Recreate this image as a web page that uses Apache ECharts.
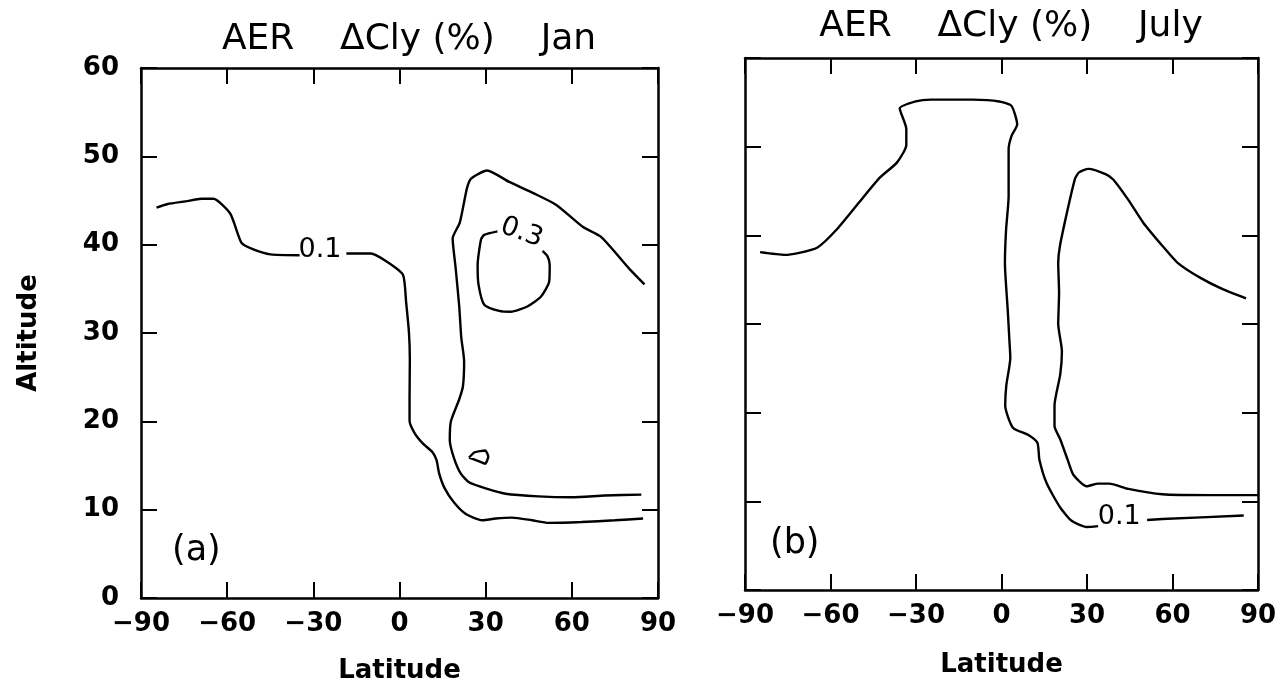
<!DOCTYPE html>
<html>
<head>
<meta charset="utf-8">
<script src="https://cdn.jsdelivr.net/npm/echarts@6/dist/echarts.min.js"></script>
<style>
  html, body { margin: 0; padding: 0; background: #fff; }
  #chart { width: 1279px; height: 683px; }
</style>
</head>
<body>
<div id="chart"></div>
<script>
// Latitude / altitude axis ticks
const LAT_TICKS = { min: -90, max: 90, step: 30 };
const ALT_TICKS = { min: 0, max: 60, step: 10 };

// ---- January (a): contour paths as [latitude, altitude] ----
const JAN_LOW_WEST = [[-84.6,44.2],[-80.7,44.6],[-74.5,44.9],[-69,45.2],[-64.8,45.2],[-58.9,43.5],[-55,40.2],[-51.1,39.5],[-44.9,38.9],[-34.8,38.8]];
const JAN_LOW_EAST = [[-18.5,39],[-10,39],[-4.5,38.1],[1.2,36.6],[2.3,33.5],[3.3,30],[3.6,27],[3.5,22.6],[3.5,20.1],[5.2,18.7],[8.1,17.5],[11.5,16.5],[12.9,15.6],[13.8,14.1],[15.6,12.5],[19,10.8],[23.1,9.5],[28.8,8.8],[33.5,9],[39.2,9.1],[46.1,8.8],[51.9,8.5],[63.4,8.6],[75,8.8],[84.8,9]];
const JAN_MID = [[85.3,35.5],[80.2,37.2],[70.1,40.9],[63.9,42],[54.6,44.5],[46.8,45.8],[38.2,47.1],[30.5,48.4],[25,47.5],[23.5,46.4],[21,42.5],[18.5,40.7],[19.5,37.5],[20.8,33],[21.5,29.5],[22.5,26.8],[22.1,24],[20.8,22.5],[17.9,20],[17.5,17.9],[19,15.8],[21.3,14.1],[24.2,13.1],[30,12.4],[36.9,11.8],[48.4,11.5],[60,11.4],[71.5,11.6],[84.2,11.7]];
const JAN_ISLAND = [[24.2,15.9],[26.2,16.5],[29.8,16.7],[30.9,16],[29.8,15.2],[27.5,15.5],[24.2,15.9]];
const JAN_HIGH = [[34.1,41.5],[29.5,41.1],[28.4,40.6],[27.2,37.7],[27.5,35.5],[29.5,33.2],[34.7,32.5],[38.8,32.4],[44.5,33],[49.2,34.1],[52.1,35.8],[52.3,37.7],[51.5,38.7],[49.8,39.3]];
const JAN_LABELS = [[-27.5,39.3,'0.1'],[42.7,41.3,'0.3']];

// ---- July (b) ----
const JUL_WEST = [[-84.7,38.1],[-76,37.8],[-71.4,38],[-64.7,38.6],[-58,40.6],[-50,43.7],[-42.7,46.5],[-36.7,48.2],[-33.4,50.2],[-33.4,52],[-35.7,54.3],[-30.1,55.1],[-24.8,55.3],[-10.1,55.3],[-0.8,55.1],[3.5,54.6],[5.5,52.5],[3.5,51.2],[2.5,49.7],[2.5,44.4],[1.6,40.6],[1.2,36.9],[2.2,31.5],[2.8,28],[3.1,26.2],[1.7,23.1],[1.3,20.8],[4,18.3],[9.3,17.5],[12.6,16.6],[13.3,14.7],[15.9,12],[20.6,9.3],[24.6,7.8],[29.9,7.1],[33.9,7.2]];
const JUL_WEST_TAIL = [[51.1,7.9],[56.4,8],[85,8.4]];
const JUL_EAST = [[85.8,32.9],[77.8,33.9],[69.8,35.2],[61.8,36.9],[56.5,38.8],[49.8,41.4],[44.5,44],[39.2,46.3],[36.5,46.9],[30.5,47.5],[27.2,47.1],[25.8,46.4],[23.2,42.9],[20.5,38.8],[19.9,36.9],[20.2,33.5],[19.9,30],[21.2,26.9],[20.6,24.3],[18.6,20.8],[18.6,18.5],[20.6,17],[23.2,14.7],[25.2,13],[29.9,11.7],[33.9,12],[37.8,12],[44.5,11.4],[56.4,10.8],[73.7,10.7],[90,10.7]];
const JUL_LABELS = [[41.5,8.2,'0.1']];

const TITLES = ['AER    \u0394Cly (%)    Jan', 'AER    \u0394Cly (%)    July'];
const PANEL_TAGS = ['(a)', '(b)'];

const FONT = '"DejaVu Sans", sans-serif';
const INK = '#000';

// Fixed plot boxes; outer bounds handling off so names never squeeze the boxes
const grids = [
  { left: 141, top: 68, width: 517, height: 530, outerBoundsMode: 'none', containLabel: false },
  { left: 745, top: 58, width: 513, height: 532, outerBoundsMode: 'none', containLabel: false }
];

const minus = v => String(v).replace('-', '\u2212');

function xAxisFor(gridIndex, position, withLabels, nameGap) {
  return {
    type: 'value', gridIndex, position,
    min: LAT_TICKS.min, max: LAT_TICKS.max, interval: LAT_TICKS.step,
    name: withLabels ? 'Latitude' : '',
    nameLocation: 'middle', nameGap: nameGap || 60,
    nameTextStyle: { fontFamily: FONT, fontWeight: 'bold', fontSize: 26, color: INK },
    axisLine: { show: true, onZero: false, lineStyle: { color: INK, width: 2.5 } },
    axisTick: { show: true, inside: true, length: 16, lineStyle: { color: INK, width: 2 } },
    axisLabel: { show: withLabels, margin: 13, fontFamily: FONT, fontWeight: 'bold', fontSize: 26, color: INK, formatter: minus },
    splitLine: { show: false }
  };
}

function yAxisFor(gridIndex, position, withLabels, withName) {
  return {
    type: 'value', gridIndex, position,
    min: ALT_TICKS.min, max: ALT_TICKS.max, interval: ALT_TICKS.step,
    name: withName ? 'Altitude' : '',
    nameLocation: 'middle', nameGap: 99, nameRotate: 90,
    nameTextStyle: { fontFamily: FONT, fontWeight: 'bold', fontSize: 26, color: INK },
    axisLine: { show: true, onZero: false, lineStyle: { color: INK, width: 2.5 } },
    axisTick: { show: true, inside: true, length: 16, lineStyle: { color: INK, width: 2 } },
    axisLabel: { show: withLabels, margin: 22, fontFamily: FONT, fontWeight: 'bold', fontSize: 26, color: INK },
    splitLine: { show: false }
  };
}

function contour(data, xi, yi) {
  return {
    type: 'line', data, xAxisIndex: xi, yAxisIndex: yi,
    showSymbol: false, symbol: 'none', smooth: 0.2,
    lineStyle: { color: INK, width: 2.4 }, silent: true, z: 3
  };
}

function contourLabels(data, xi, yi) {
  return {
    type: 'scatter', xAxisIndex: xi, yAxisIndex: yi, symbolSize: 1, silent: true,
    itemStyle: { opacity: 0 },
    data: data.map(d => ({
      value: [d[0], d[1]],
      label: { rotate: d[2] === '0.3' ? -20 : 0 },
      name: d[2]
    })),
    label: {
      show: true, position: [0, 0], align: 'center', verticalAlign: 'middle',
      formatter: p => p.name,
      fontFamily: FONT, fontSize: 27, color: INK, opacity: 1,
      textBorderWidth: 0
    },
    z: 4
  };
}

const chart = echarts.init(document.getElementById('chart'), null, { renderer: 'canvas' });
chart.setOption({
  backgroundColor: '#fff',
  animation: false,
  title: [
    { text: TITLES[0], left: 404, top: 17, textAlign: 'center',
      textStyle: { fontFamily: FONT, fontWeight: 'normal', fontSize: 36, color: INK } },
    { text: TITLES[1], left: 1006, top: 4, textAlign: 'center',
      textStyle: { fontFamily: FONT, fontWeight: 'normal', fontSize: 36, color: INK } }
  ],
  grid: grids,
  xAxis: [xAxisFor(0, 'bottom', true, 60), xAxisFor(0, 'top', false), xAxisFor(1, 'bottom', true, 62), xAxisFor(1, 'top', false)],
  yAxis: [yAxisFor(0, 'left', true, true), yAxisFor(0, 'right', false, false), yAxisFor(1, 'left', false, false), yAxisFor(1, 'right', false, false)],
  graphic: [
    { type: 'text', left: 172, top: 533, style: { text: PANEL_TAGS[0], font: '35px ' + FONT, fill: INK } },
    { type: 'text', left: 770, top: 526, style: { text: PANEL_TAGS[1], font: '35px ' + FONT, fill: INK } }
  ],
  series: [
    contour(JAN_LOW_WEST, 0, 0),
    contour(JAN_LOW_EAST, 0, 0),
    contour(JAN_MID, 0, 0),
    contour(JAN_ISLAND, 0, 0),
    contour(JAN_HIGH, 0, 0),
    contourLabels(JAN_LABELS, 0, 0),
    contour(JUL_WEST, 2, 2),
    contour(JUL_WEST_TAIL, 2, 2),
    contour(JUL_EAST, 2, 2),
    contourLabels(JUL_LABELS, 2, 2)
  ]
});
</script>
</body>
</html>
